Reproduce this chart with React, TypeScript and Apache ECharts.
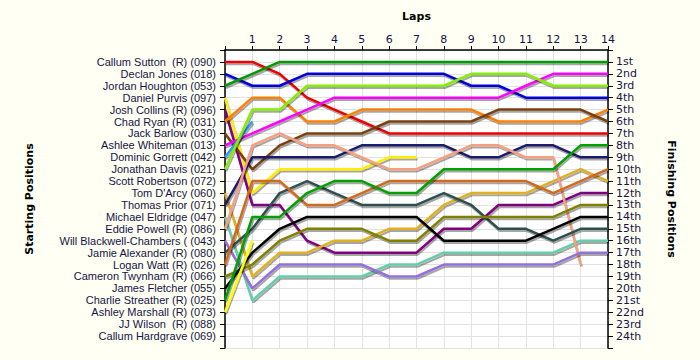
import React, { useEffect, useRef } from "react";
import * as echarts from "echarts";

const laps = [0, 1, 2, 3, 4, 5, 6, 7, 8, 9, 10, 11, 12, 13, 14];

const startNames = [
  "Callum Sutton  (R) (090)",
  "Declan Jones (018)",
  "Jordan Houghton (053)",
  "Daniel Purvis (097)",
  "Josh Collins (R) (096)",
  "Chad Ryan (R) (031)",
  "Jack Barlow (030)",
  "Ashlee Whiteman (013)",
  "Dominic Gorrett (042)",
  "Jonathan Davis (021)",
  "Scott Robertson (072)",
  "Tom D'Arcy (060)",
  "Thomas Prior (071)",
  "Michael Eldridge (047)",
  "Eddie Powell (R) (086)",
  "Will Blackwell-Chambers ( (043)",
  "Jamie Alexander (R) (080)",
  "Logan Watt (R) (026)",
  "Cameron Twynham (R) (066)",
  "James Fletcher (055)",
  "Charlie Streather (R) (025)",
  "Ashley Marshall (R) (073)",
  "JJ Wilson  (R) (088)",
  "Callum Hardgrave (069)",
];

const finishLabels = [
  "1st", "2nd", "3rd", "4th", "5th", "6th", "7th", "8th", "9th", "10th", "11th", "12th",
  "13th", "14th", "15th", "16th", "17th", "18th", "19th", "20th", "21st", "22nd", "23rd", "24th",
];

const N = null;
const sutton = [1, 1, 2, 4, 5, 6, 7, 7, 7, 7, 7, 7, 7, 7, 7];
const jones = [2, 3, 3, 2, 2, 2, 2, 2, 2, 3, 3, 4, 4, 4, 4];
const houghton = [3, 2, 1, 1, 1, 1, 1, 1, 1, 1, 1, 1, 1, 1, 1];
const purvis = [4, 12, 10, 10, 10, 10, 9, 9, N, N, N, N, N, N, N];
const collins = [5, 13, 13, 16, 17, 17, 17, 17, 15, 15, 13, 13, 13, 12, 12];
const ryan = [6, 4, 4, 6, 6, 5, 5, 5, 5, 5, 6, 6, 6, 6, 5];
const barlow = [7, 10, 8, 7, 7, 7, 6, 6, 6, 6, 5, 5, 5, 5, 6];
const whiteman = [8, 7, 6, 5, 4, 4, 4, 4, 4, 4, 4, 3, 2, 2, 2];
const gorrett = [9, 6, N, N, N, N, N, N, N, N, N, N, N, N, N];
const davis = [10, 5, 5, 3, 3, 3, 3, 3, 3, 2, 2, 2, 3, 3, 3];
const darcy = [12, 19, 17, 17, 16, 16, 15, 15, 13, 12, 12, 12, 11, 10, 11];
const prior = [13, 9, 9, 9, 9, 8, 8, 8, 8, 9, 9, 8, 8, 9, 9];
const eldridge = [14, 21, 19, 19, 19, 19, 18, 18, 17, 17, 17, 17, 17, 16, 16];
const powell = [15, 8, 7, 8, 8, 9, 10, 10, 9, 8, 8, 9, 9, 18, N];
const blackwell = [16, 20, 18, 18, 18, 18, 19, 19, 18, 18, 18, 18, 18, 17, 17];
const alexander = [17, 15, 12, 11, 12, 13, 13, 13, 12, 13, 15, 15, 16, 15, 15];
const watt = [18, 11, 11, 13, 13, 12, 11, 11, 11, 11, 11, 11, 12, 11, 10];
const twynham = [19, 18, 16, 15, 15, 15, 16, 16, 14, 14, 14, 14, 14, 13, 13];
const fletcher = [20, 17, 15, 14, 14, 14, 14, 14, 16, 16, 16, 16, 15, 14, 14];
const streather = [21, 14, 14, 12, 11, 11, 12, 12, 10, 10, 10, 10, 10, 8, 8];
const marshall = [22, 16, N, N, N, N, N, N, N, N, N, N, N, N, N];

const driverSeries = [
  { name: startNames[0], pos: sutton },
  { name: startNames[1], pos: jones },
  { name: startNames[2], pos: houghton },
  { name: startNames[3], pos: purvis },
  { name: startNames[4], pos: collins },
  { name: startNames[5], pos: ryan },
  { name: startNames[6], pos: barlow },
  { name: startNames[7], pos: whiteman },
  { name: startNames[8], pos: gorrett },
  { name: startNames[9], pos: davis },
  { name: startNames[11], pos: darcy },
  { name: startNames[12], pos: prior },
  { name: startNames[13], pos: eldridge },
  { name: startNames[14], pos: powell },
  { name: startNames[15], pos: blackwell },
  { name: startNames[16], pos: alexander },
  { name: startNames[17], pos: watt },
  { name: startNames[18], pos: twynham },
  { name: startNames[19], pos: fletcher },
  { name: startNames[20], pos: streather },
  { name: startNames[21], pos: marshall },
];

const lineColors = [
  "#EE0000", "#0000DD", "#009A00", "#FFEE00", "#800080", "#FF8000", "#7A4010",
  "#FF00FF", "#3399FF", "#80F000", "#E0B020", "#1C1C6C", "#66CDAA", "#F5A080",
  "#9370DB", "#2F4F4F", "#D2691E", "#808000", "#000000", "#00A000", "#FFFF00",
];

const textColor = "#141446";

export default function App() {
  const ref = useRef<HTMLDivElement>(null);
  useEffect(() => {
    if (!ref.current) return;
    const chart = echarts.init(ref.current, null, { renderer: "svg" });
    const yCommon = {
      type: "value",
      min: 0,
      max: 25,
      interval: 1,
      inverse: true,
      axisLine: { show: true, lineStyle: { color: "#000", width: 1.5 } },
      axisTick: { show: true, length: 5, lineStyle: { color: "#000" } },
      nameLocation: "middle",
      nameTextStyle: { fontWeight: "bold", fontSize: 11, color: "#000", fontFamily: "DejaVu Sans" },
    };
    chart.setOption({
      animation: false,
      backgroundColor: "#FFFFF4",
      textStyle: { fontFamily: "Liberation Sans" },
      grid: {
        left: 225,
        right: 92,
        top: 50,
        bottom: 12,
        show: true,
        backgroundColor: "#FFFFFF",
        borderWidth: 0,
        containLabel: false,
        outerBoundsMode: "none",
      },
      xAxis: {
        type: "value",
        position: "top",
        min: 0,
        max: 14,
        interval: 1,
        name: "Laps",
        nameLocation: "middle",
        nameGap: 28,
        nameTextStyle: { fontWeight: "bold", fontSize: 11, color: "#000", fontFamily: "DejaVu Sans" },
        axisLine: { show: true, lineStyle: { color: "#000", width: 1.5 } },
        axisTick: { show: true, length: 4, lineStyle: { color: "#000" } },
        axisLabel: {
          color: textColor,
          fontSize: 11,
          fontFamily: "DejaVu Sans",
          margin: 5,
          formatter: (v: number) => (v === 0 ? "" : String(laps[v])),
        },
        splitLine: { show: true, lineStyle: { color: "#E2E2E2", width: 1 } },
      },
      yAxis: [
        {
          ...yCommon,
          position: "left",
          name: "Starting Positions",
          nameGap: 190,
          nameRotate: 90,
          axisLabel: {
            color: textColor,
            fontSize: 11,
            margin: 9,
            formatter: (v: number) => startNames[v - 1] || "",
          },
          splitLine: { show: true, lineStyle: { color: "#E2E2E2", width: 1 } },
        },
        {
          ...yCommon,
          position: "right",
          name: "Finishing Positions",
          nameGap: 58,
          nameRotate: -90,
          axisLabel: {
            color: textColor,
            fontSize: 11,
            fontFamily: "DejaVu Sans",
            margin: 8,
            formatter: (v: number) => finishLabels[v - 1] || "",
          },
          splitLine: { show: false },
        },
      ],
      series: driverSeries.map((d, i) => ({
        type: "line",
        name: d.name,
        yAxisIndex: 0,
        showSymbol: false,
        symbol: "none",
        connectNulls: false,
        data: d.pos
          .map((p, k) => (p === null ? null : [laps[k], p]))
          .filter((x) => x !== null),
        lineStyle: {
          color: lineColors[i],
          width: 2.5,
          shadowColor: "rgba(0,0,0,0.35)",
          shadowOffsetX: 1,
          shadowOffsetY: 2,
          shadowBlur: 1,
        },
        itemStyle: { color: lineColors[i] },
        emphasis: { disabled: true },
      })),
    });
    return () => chart.dispose();
  }, []);
  return (
    <div
      ref={ref}
      style={{ position: "fixed", left: 0, top: 0, width: 700, height: 360 }}
    />
  );
}
